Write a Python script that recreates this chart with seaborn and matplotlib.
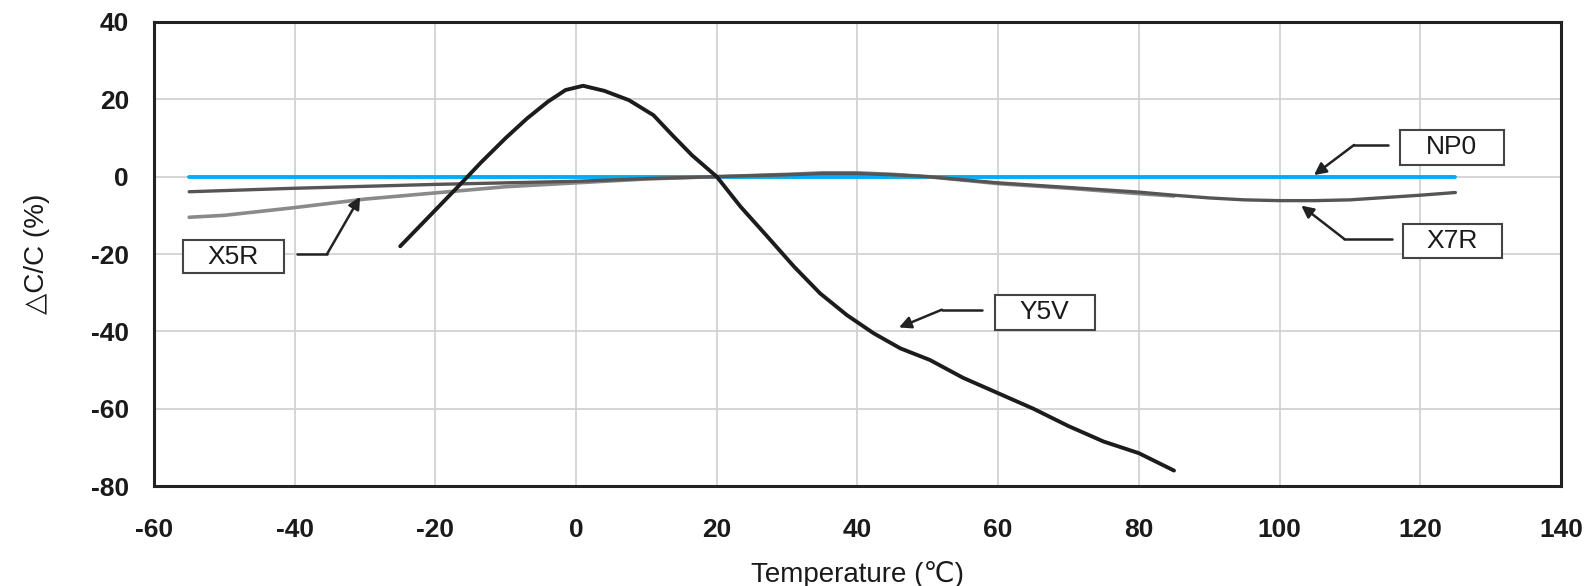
import matplotlib
matplotlib.use("Agg")
import matplotlib.pyplot as plt
from matplotlib.patches import Rectangle
import seaborn as sns

# ---- data ----
np0_t = [-55, 125]
np0_v = [0, 0]

x7r_t = [-55, -50, -40, -30, -20, -10, 0, 10, 20, 30, 35, 40, 45, 50, 60, 70, 80, 85, 90, 95, 100, 105, 110, 115, 120, 125]
x7r_v = [-3.9, -3.6, -3.0, -2.5, -2.0, -1.6, -1.2, -0.5, 0, 0.5, 0.8, 0.8, 0.5, 0, -1.6, -2.8, -4.0, -4.8, -5.5, -6.0, -6.2, -6.2, -6.0, -5.4, -4.8, -4.1]

x5r_t = [-55, -50, -40, -30, -20, -10, 0, 10, 20, 30, 35, 40, 45, 50, 60, 70, 80, 85]
x5r_v = [-10.5, -10.0, -8.0, -5.8, -4.2, -2.6, -1.6, -0.6, 0, 0.6, 1.0, 1.0, 0.6, 0, -1.8, -3.0, -4.4, -5.0]

y5v_t = [-25, -21, -17, -13.5, -10, -7, -4, -1.5, 1, 4, 7.5, 11, 13.7, 16.5, 20, 23.4, 27.2, 31, 34.7,
         38.5, 42.3, 46.1, 50.3, 55, 60, 65, 70, 75, 80, 85]
y5v_v = [-18, -10.5, -3, 3.7, 10, 15, 19.4, 22.4, 23.5, 22.2, 19.8, 15.9, 10.7, 5.5, 0, -7.8, -15.5, -23.3, -30.2,
         -35.8, -40.5, -44.4, -47.4, -52, -56, -60, -64.5, -68.5, -71.5, -76]

x_ticks = [-60, -40, -20, 0, 20, 40, 60, 80, 100, 120, 140]
y_ticks = [-80, -60, -40, -20, 0, 20, 40]

series_labels = ["NP0", "X7R", "X5R", "Y5V"]
x_label = "Temperature (\u2103)"
y_label = "\u25b3C/C (%)"

# ---- style ----
sns.set_theme(style="whitegrid")
plt.rcParams['font.family'] = ['Liberation Sans', 'DejaVu Sans']

fig = plt.figure(figsize=(15.96, 5.86), dpi=100)
ax = fig.add_axes([0.0965, 0.1706, 0.8815, 0.7919])

sns.lineplot(x=x5r_t, y=x5r_v, ax=ax, color="#8a8a8a", linewidth=2.6, zorder=3)
sns.lineplot(x=x7r_t, y=x7r_v, ax=ax, color="#555555", linewidth=2.4, zorder=3)
sns.lineplot(x=np0_t, y=np0_v, ax=ax, color="#00aeef", linewidth=2.8, zorder=2)
sns.lineplot(x=y5v_t, y=y5v_v, ax=ax, color="#1c1c1c", linewidth=2.8, zorder=4)

ax.set_xlim(-60, 140)
ax.set_ylim(-80, 40)
ax.set_xticks(x_ticks)
ax.set_yticks(y_ticks)
ax.set_xticklabels([str(v) for v in x_ticks], fontsize=19, fontweight='bold', color="#1a1a1a")
ax.set_yticklabels([str(v) for v in y_ticks], fontsize=19, fontweight='bold', color="#1a1a1a")
ax.tick_params(axis='x', length=0, pad=23)
ax.tick_params(axis='y', length=0, pad=18)

ax.grid(True, color="#d2d2d2", linewidth=1.3)
ax.set_facecolor("white")
for s in ax.spines.values():
    s.set_visible(True)
    s.set_color("#222222")
    s.set_linewidth(2.2)

ax.set_xlabel(x_label, fontsize=20, color="#1a1a1a", va="center")
ax.set_ylabel(y_label, fontsize=20, color="#1a1a1a", va="center")
ax.xaxis.set_label_coords(0.5, -0.19)
ax.yaxis.set_label_coords(-0.083, 0.5)

# ---- annotations ----
arrow = dict(arrowstyle="-|>", color="#222222", lw=1.8, mutation_scale=18, shrinkA=0, shrinkB=0)

def callout(label, x0, x1, y0, y1, start, bend, tip):
    ax.add_patch(Rectangle((x0, y0), x1 - x0, y1 - y0, fc="white", ec="#444444", lw=1.5, zorder=6))
    ax.text((x0 + x1) / 2, (y0 + y1) / 2, label, ha="center", va="center", fontsize=19,
            color="#1a1a1a", zorder=7)
    ax.plot([start[0], bend[0]], [start[1], bend[1]], color="#222222", lw=1.8, zorder=5)
    ax.annotate("", xy=tip, xytext=bend, arrowprops=arrow, zorder=5)

callout(series_labels[0], 117.1, 131.9, 3.0, 12.1, (115.4, 8.2), (110.6, 8.2), (104.9, 0.4))
callout(series_labels[1], 117.5, 131.6, -21.0, -12.2, (116.0, -16.1), (109.2, -16.1), (103.1, -7.5))
callout(series_labels[2], -55.9, -41.5, -24.9, -16.4, (-39.7, -20.0), (-35.4, -20.0), (-30.7, -5.2))
callout(series_labels[3], 59.5, 73.7, -39.6, -30.5, (57.7, -34.4), (52.0, -34.4), (45.9, -39.0))

fig.savefig("out.png", dpi=100)
